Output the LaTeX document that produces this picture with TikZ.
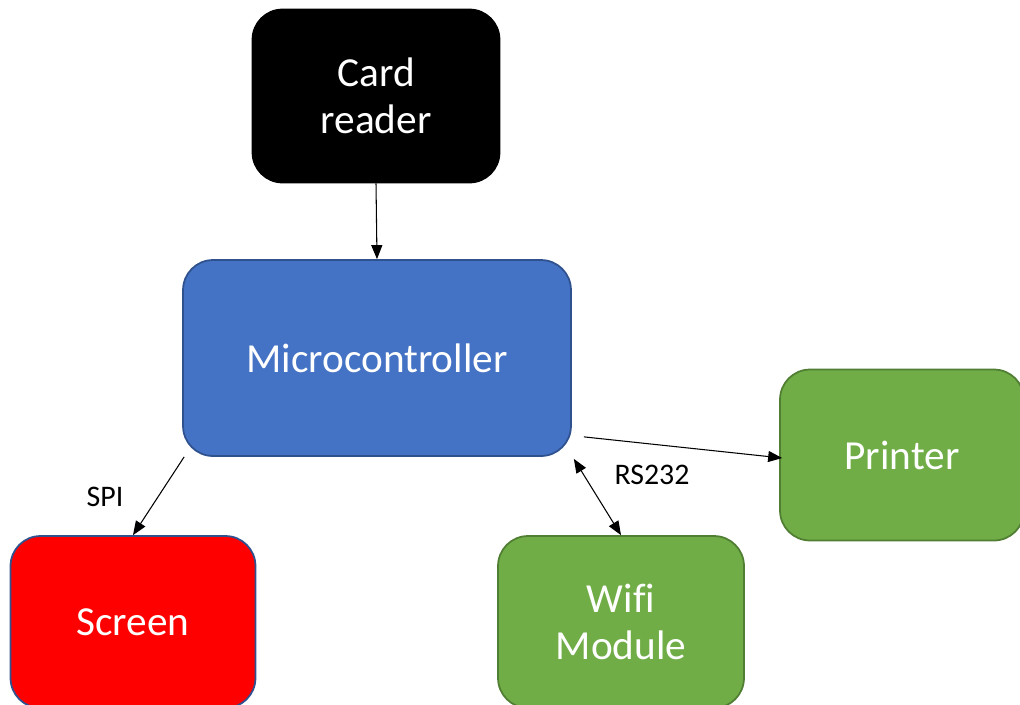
\documentclass[tikz,border=0pt]{standalone}
\usepackage{fontspec}
\setmainfont{Carlito}[Ligatures=NoCommon]
\usetikzlibrary{arrows.meta}
\definecolor{mcublue}{HTML}{4472C4}
\definecolor{mcuedge}{HTML}{2F528F}
\definecolor{modgreen}{HTML}{70AD47}
\definecolor{modedge}{HTML}{507E32}
\begin{document}
\begin{tikzpicture}[x=0.02cm,y=-0.02cm]
\tikzstyle{block}=[rectangle,draw,rounded corners=0.6cm,line width=1pt,text=white,
    align=center,font=\fontsize{23.5}{27}\selectfont]
  \tikzstyle{link}=[line width=0.6pt,-{Triangle[length=2.8mm,width=2.2mm]}]
  \tikzstyle{lab}=[font=\fontsize{17}{20}\selectfont]

  \useasboundingbox (0,0) rectangle (1020,704);

  \node[block,fill=black,draw=black,minimum width=4.94cm,minimum height=3.46cm] (card) at (376,96) {Card\\reader};
  \node[block,fill=mcublue,draw=mcuedge,minimum width=7.76cm,minimum height=3.92cm] (mcu) at (377,358) {Microcontroller};
  \node[block,fill=modgreen,draw=modedge,minimum width=4.88cm,minimum height=3.42cm] (printer) at (902,455) {Printer};
  \node[block,fill=red,draw=mcuedge,minimum width=4.9cm,minimum height=3.44cm] (screen) at (133,622) {Screen};
  \node[block,fill=modgreen,draw=modedge,minimum width=4.92cm,minimum height=3.44cm] (wifi) at (621,622) {Wifi\\Module};

  \draw[link] (card.south) -- (mcu.north);
  \draw[link] ([shift={(2,0)}]mcu.south west) -- (screen.north);
  \draw[link] ([shift={(12,-20)}]mcu.south east) -- ([shift={(3,3)}]printer.west);
  \draw[link,{Triangle[length=2.8mm,width=2.2mm]}-{Triangle[length=2.8mm,width=2.2mm]}] ([shift={(2,2)}]mcu.south east) -- (wifi.north);

  \node[lab] (spi) at (105,497) {SPI};
  \node[lab] (rs) at (652,475) {RS232};
\end{tikzpicture}
\end{document}
